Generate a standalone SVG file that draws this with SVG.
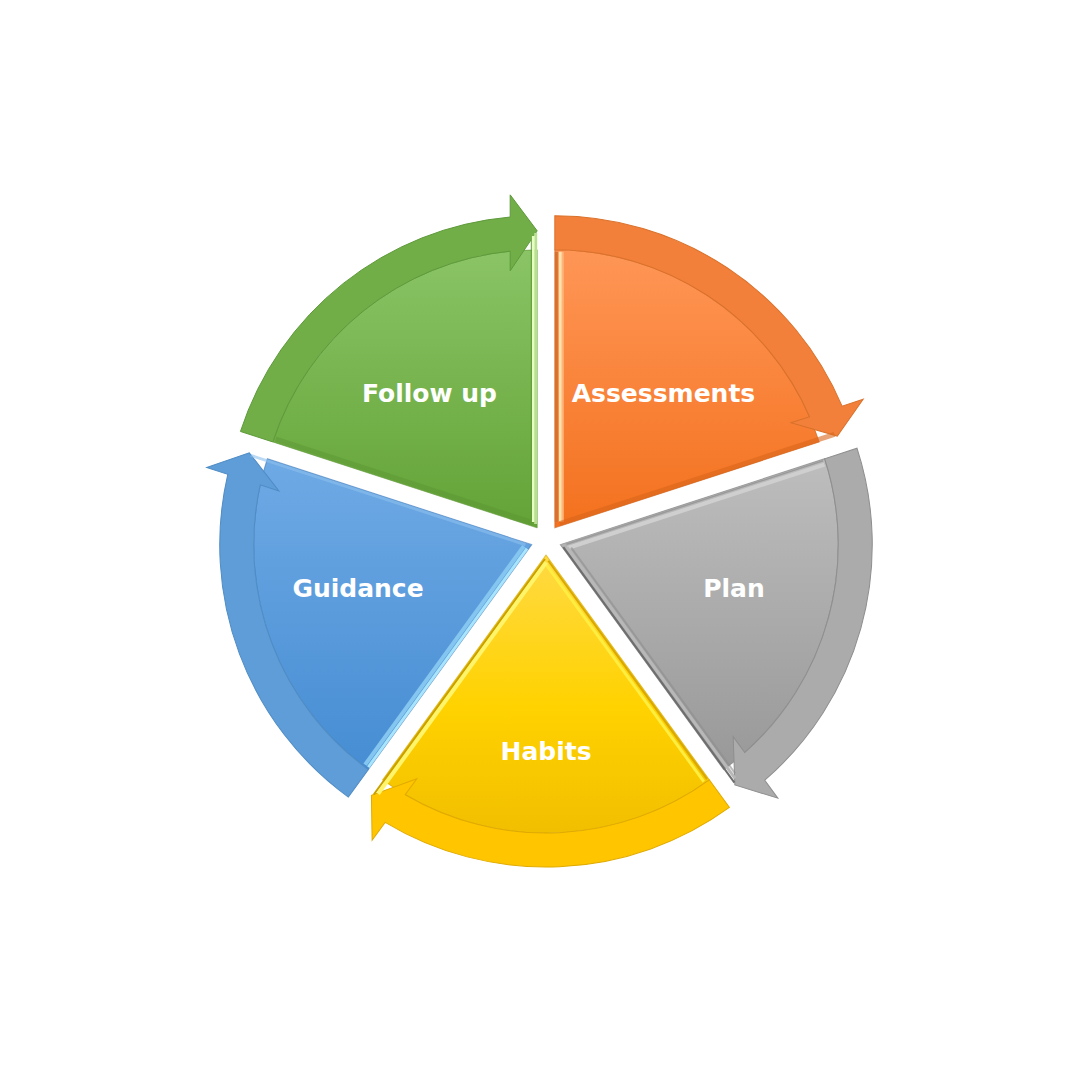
<svg xmlns="http://www.w3.org/2000/svg" xmlns:xlink="http://www.w3.org/1999/xlink" width="1080" height="1080" viewBox="0 0 1080 1080">
<style>
.lbl{font-family:"DejaVu Sans","Verdana",sans-serif;font-weight:bold;font-size:25px;fill:#ffffff;text-anchor:middle}
.s{fill:none;stroke-linecap:butt}
</style>
<defs>
<path id="wedge" d="M537.18,527.86 L272.79,441.95 A278,278 0 0 1 537.18,249.86 Z"/>
<path id="arrow" d="M240.45,431.45 A312,312 0 0 1 510.18,217.03 L510.18,194.86 L537.18,230.86 L510.18,270.86 L510.18,251.17 A278,278 0 0 0 272.79,441.95 Z"/>
<linearGradient id="gG" gradientUnits="userSpaceOnUse" x1="400" y1="250" x2="400" y2="528">
<stop offset="0" stop-color="#8AC466"/><stop offset="1" stop-color="#63A336"/></linearGradient>
<linearGradient id="gO" gradientUnits="userSpaceOnUse" x1="700" y1="250" x2="700" y2="528" gradientTransform="rotate(-72 546 540)">
<stop offset="0" stop-color="#FF9656"/><stop offset="1" stop-color="#F3711E"/></linearGradient>
<linearGradient id="gY" gradientUnits="userSpaceOnUse" x1="700" y1="435" x2="700" y2="783" gradientTransform="rotate(-144 546 540)">
<stop offset="0" stop-color="#C0C0C0"/><stop offset="1" stop-color="#979797"/></linearGradient>
<linearGradient id="gW" gradientUnits="userSpaceOnUse" x1="546" y1="553" x2="546" y2="832" gradientTransform="rotate(-216 546 540)">
<stop offset="0" stop-color="#FFDA44"/><stop offset="0.55" stop-color="#FFD200"/><stop offset="1" stop-color="#F2BF00"/></linearGradient>
<linearGradient id="gB" gradientUnits="userSpaceOnUse" x1="400" y1="400" x2="400" y2="770" gradientTransform="rotate(-288 546 540)">
<stop offset="0" stop-color="#76AFE8"/><stop offset="1" stop-color="#468DD3"/></linearGradient>
</defs>
<rect width="1080" height="1080" fill="#ffffff"/>

<g id="follow-up">
<g>
<use xlink:href="#wedge" fill="url(#gG)" stroke="#5C9236" stroke-opacity="0.6" stroke-width="1"/>
<use xlink:href="#arrow" fill="#71AE48" stroke="#5E9A3A" stroke-width="1"/>
<line class="s" x1="532.55" y1="522.68" x2="275.77" y2="439.24" stroke="#5A9432" stroke-width="5" stroke-opacity="0.45"/>
<line class="s" x1="535.7" y1="524" x2="535.7" y2="233" stroke="#B8E090" stroke-width="3"/>
<line class="s" x1="533.2" y1="522" x2="533.2" y2="236" stroke="#E4FFC0" stroke-width="2.5"/>
<line class="s" x1="531.3" y1="520" x2="531.3" y2="240" stroke="#5E9A36" stroke-width="1"/>
</g>
<text class="lbl" x="429.5" y="402">Follow up</text>
</g>

<g id="assessments">
<g transform="rotate(72 546 540)">
<use xlink:href="#wedge" fill="url(#gO)" stroke="#C8621E" stroke-opacity="0.6" stroke-width="1"/>
<use xlink:href="#arrow" fill="#F2803A" stroke="#D9712B" stroke-width="1"/>
<line class="s" x1="531.94" y1="524.58" x2="275.15" y2="441.14" stroke="#D8702E" stroke-width="3"/>
<line class="s" x1="533.17" y1="520.78" x2="276.39" y2="437.34" stroke="#FFE4B0" stroke-width="3"/>
<line class="s" x1="533.94" y1="518.40" x2="277.16" y2="434.96" stroke="#FFB47A" stroke-width="2"/>
<line class="s" x1="534.68" y1="522" x2="534.68" y2="233" stroke="#D8661A" stroke-width="5" stroke-opacity="0.6"/>
</g>
<text class="lbl" x="663.5" y="402">Assessments</text>
</g>

<g id="plan">
<g transform="rotate(144 546 540)">
<use xlink:href="#wedge" fill="url(#gY)" stroke="#7F7F7F" stroke-opacity="0.7" stroke-width="1"/>
<use xlink:href="#arrow" fill="#ABABAB" stroke="#8E8E8E" stroke-width="1"/>
<line class="s" x1="531.94" y1="524.58" x2="275.15" y2="441.14" stroke="#9A9A9A" stroke-width="1.5"/>
<line class="s" x1="533.17" y1="520.78" x2="276.39" y2="437.34" stroke="#CFCFCF" stroke-width="4"/>
<line class="s" x1="536.18" y1="524" x2="536.18" y2="233" stroke="#6E6E6E" stroke-width="2"/>
<line class="s" x1="533.18" y1="522" x2="533.18" y2="236" stroke="#B8B8B8" stroke-width="3"/>
<line class="s" x1="530.18" y1="519" x2="530.18" y2="240" stroke="#8E8E8E" stroke-width="2" stroke-opacity="0.6"/>
</g>
<text class="lbl" x="734" y="597">Plan</text>
</g>

<g id="habits">
<g transform="rotate(216 546 540)">
<use xlink:href="#wedge" fill="url(#gW)" stroke="#D9A800" stroke-opacity="0.7" stroke-width="1"/>
<use xlink:href="#arrow" fill="#FFC600" stroke="#E0AA00" stroke-width="1"/>
<line class="s" x1="531.94" y1="524.58" x2="275.15" y2="441.14" stroke="#D8A800" stroke-width="2"/>
<line class="s" x1="533.17" y1="520.78" x2="276.39" y2="437.34" stroke="#FFEE40" stroke-width="3"/>
<line class="s" x1="535.68" y1="524" x2="535.68" y2="233" stroke="#C8A000" stroke-width="2"/>
<line class="s" x1="532.68" y1="522" x2="532.68" y2="236" stroke="#FFF46A" stroke-width="4"/>
</g>
<text class="lbl" x="546" y="760">Habits</text>
</g>

<g id="guidance">
<g transform="rotate(288 546 540)">
<use xlink:href="#wedge" fill="url(#gB)" stroke="#3E78B8" stroke-opacity="0.6" stroke-width="1"/>
<use xlink:href="#arrow" fill="#5E9DD7" stroke="#4F8CC4" stroke-width="1"/>
<line class="s" x1="531.94" y1="524.58" x2="275.15" y2="441.14" stroke="#A8E4FC" stroke-width="3"/>
<line class="s" x1="533.17" y1="520.78" x2="276.39" y2="437.34" stroke="#84C6F0" stroke-width="4"/>
<line class="s" x1="535.18" y1="522" x2="535.18" y2="233" stroke="#8CC0EE" stroke-width="3" stroke-opacity="0.6"/>
</g>
<text class="lbl" x="358" y="597">Guidance</text>
</g>

<g id="connectors"></g>
</svg>
